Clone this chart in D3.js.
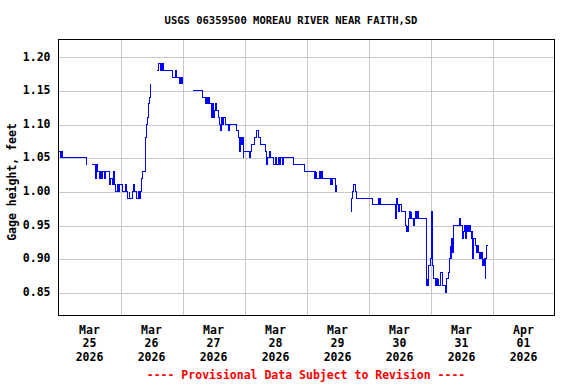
<!DOCTYPE html>
<html>
<head>
<meta charset="utf-8">
<script src="https://cdn.jsdelivr.net/npm/d3@7"></script>
<style>
  body { margin: 0; background: #fff; }
  text { font-family: "DejaVu Sans Mono", monospace; font-weight: bold; }
</style>
</head>
<body>
<div id="chart"></div>
<script>
const title = 'USGS 06359500 MOREAU RIVER NEAR FAITH,SD';
const yLabel = 'Gage height, feet';
const footer = '---- Provisional Data Subject to Revision ----';

// hours since Mar 25 2026 00:00, value where the reading changes (null = gap)
const hours = [
  0, 0.6, 1.2, 1.6, 10.8, 11.9,
  12.9, 14.3, 14.6, 15.2, 16.0, 16.3, 16.8, 17.2, 17.8, 18.1, 19.8, 20.1, 21.0, 21.4,
  21.7, 22.2, 22.7, 23.2, 23.5, 24.8, 26.1, 26.5, 26.8, 27.3, 27.6, 28.7, 29.0, 29.3,
  30.3, 31.0, 31.3, 31.7, 32.0, 32.3, 32.7, 33.7, 34.0, 34.4, 34.8, 35.1, 35.5, 36.4,
  37.9, 38.9, 39.3, 39.6, 40.0, 40.3, 40.8, 44.1, 45.4, 45.6, 46.7, 47.0, 47.3, 47.6,
  47.9, 48.2,
  52.0, 55.7, 57.0, 57.3, 57.6, 58.0, 58.6, 59.2, 59.6, 59.8, 60.1, 60.4, 60.9, 61.3,
  61.9, 62.5, 62.9, 63.1, 63.5, 63.9, 64.6, 65.7, 66.3, 69.0, 69.5, 70.2, 70.5, 70.8,
  71.1, 71.5, 71.7, 73.8, 74.4, 74.9, 76.0, 76.6, 77.5, 78.2, 80.0, 80.7, 81.0, 81.5,
  82.1, 83.3, 84.1, 84.5, 85.0, 85.5, 85.9, 86.8, 87.0, 90.9, 95.4, 99.0, 99.2, 99.5,
  99.7, 100.0, 101.1, 101.4, 101.7, 102.0, 105.3, 105.7, 105.9, 106.2, 107.1, 107.5, 110.4,
  113.4, 113.5, 113.8, 114.3, 114.8, 115.2, 121.5, 123.7, 124.1, 124.3, 124.6, 130.5,
  130.7, 131.0, 131.4, 131.8, 132.1, 132.9, 134.5, 134.7, 135.0, 135.2, 135.5, 136.0,
  136.3, 136.5, 136.8, 137.3, 137.9, 138.3, 138.7, 139.0, 139.5, 142.3, 142.5, 142.7,
  142.8, 143.1, 143.2, 144.0, 144.3, 144.4, 144.6, 144.8, 145.0, 145.8, 146.3, 146.6,
  147.0, 147.2, 147.9, 148.8, 149.9, 150.2, 151.1, 151.4, 151.6, 151.9, 152.1, 152.5,
  152.8, 153.0, 155.1, 155.7, 156.4, 156.6, 157.3, 157.5, 157.8, 158.2, 158.6, 159.0,
  159.2, 159.5, 159.7, 160.0, 160.3, 160.5, 160.8, 161.4, 161.8, 162.2, 162.5, 162.8,
  163.1, 163.4, 163.7, 164.0, 164.4, 164.6, 164.9, 165.2, 165.4, 165.7, 165.8, 165.9
];
const gage = [
  1.06, 1.05, 1.06, 1.05, 1.04, null,
  1.04, 1.02, 1.04, 1.03, 1.02, 1.03, 1.02, 1.03, 1.02, 1.03, 1.01, 1.02, 1.01, 1.03,
  1.01, 1.00, 1.01, 1.00, 1.01, 1.00, 1.01, 1.00, 0.99, 1.00, 0.99, 1.00, 1.01, 1.00,
  0.99, 1.00, 0.99, 1.00, 1.01, 1.02, 1.03, 1.08, 1.10, 1.11, 1.13, 1.14, 1.16, null,
  1.18, 1.19, 1.18, 1.19, 1.18, 1.19, 1.18, 1.17, 1.18, 1.17, 1.16, 1.17, 1.16, 1.17,
  1.16, null,
  1.15, 1.14, 1.13, 1.14, 1.13, 1.14, 1.13, 1.11, 1.12, 1.13, 1.11, 1.12, 1.13, 1.12,
  1.11, 1.10, 1.09, 1.11, 1.10, 1.11, 1.10, 1.09, 1.10, 1.09, 1.08, 1.06, 1.08, 1.07,
  1.08, 1.05, 1.06, 1.05, 1.06, 1.07, 1.08, 1.09, 1.08, 1.07, 1.06, 1.04, 1.05, 1.06,
  1.05, 1.04, 1.05, 1.04, 1.05, 1.04, 1.05, 1.04, 1.05, 1.04, 1.03, 1.02, 1.03, 1.02,
  1.03, 1.02, 1.03, 1.02, 1.03, 1.02, 1.01, 1.02, 1.01, 1.02, 1.00, 1.01, null,
  0.97, 0.99, 1.00, 1.01, 1.00, 0.99, 0.98, 0.99, 0.98, 0.99, 0.98, 0.96,
  0.98, 0.99, 0.98, 0.97, 0.98, 0.97, 0.95, 0.94, 0.95, 0.94, 0.96, 0.97,
  0.96, 0.97, 0.96, 0.95, 0.96, 0.97, 0.96, 0.97, 0.96, 0.87, 0.86, 0.87,
  0.86, 0.87, 0.89, 0.90, 0.92, 0.97, 0.93, 0.89, 0.87, 0.86, 0.87, 0.86,
  0.87, 0.86, 0.88, 0.86, 0.85, 0.87, 0.88, 0.90, 0.92, 0.90, 0.93, 0.91,
  0.94, 0.95, 0.96, 0.95, 0.93, 0.94, 0.95, 0.93, 0.95, 0.94, 0.95, 0.94,
  0.95, 0.94, 0.93, 0.94, 0.90, 0.92, 0.93, 0.92, 0.91, 0.92, 0.91, 0.90,
  0.91, 0.90, 0.91, 0.89, 0.90, 0.89, 0.90, 0.87, 0.90, 0.91, 0.92, 0.92
];

const yTicks = [0.85, 0.90, 0.95, 1.00, 1.05, 1.10, 1.15, 1.20];
const dayLabels = ['Mar 25 2026', 'Mar 26 2026', 'Mar 27 2026', 'Mar 28 2026',
  'Mar 29 2026', 'Mar 30 2026', 'Mar 31 2026', 'Apr 01 2026'];

const W = 576, H = 384;
const margin = {top: 39.5, right: 21.5, bottom: 68.5, left: 58.5};

const start = new Date(2026, 2, 25);
const end = new Date(2026, 3, 2);
const toDate = h => new Date(start.getTime() + h * 3600e3);

const svg = d3.select('#chart').append('svg')
  .attr('width', W)
  .attr('height', H);

const x = d3.scaleTime()
  .domain([start, end])
  .range([margin.left, W - margin.right]);

const y = d3.scaleLinear()
  .domain([0.815, 1.225])
  .range([H - margin.bottom, margin.top]);

const plotW = W - margin.left - margin.right;
const plotH = H - margin.top - margin.bottom;

// grid from the axes
svg.append('g')
  .attr('class', 'ygrid')
  .attr('transform', `translate(${margin.left},0)`)
  .call(d3.axisLeft(y).tickValues(yTicks).tickSize(-plotW).tickPadding(8).tickFormat(d3.format('.2f')))
  .call(g => g.select('.domain').remove())
  .call(g => g.selectAll('line').attr('stroke', '#c8c8c8').attr('shape-rendering', 'crispEdges')
    .attr('transform', d => `translate(0,${Math.round(y(d)) - y(d) + 0.5})`))
  .call(g => g.selectAll('text').attr('fill', '#000').style('font-size', '11.5px')
    .style('font-family', '"DejaVu Sans Mono", monospace').style('font-weight', 'bold'));

svg.append('g')
  .attr('class', 'xgrid')
  .attr('transform', `translate(0,${H - margin.bottom})`)
  .call(d3.axisBottom(x).tickValues(d3.timeDay.range(d3.timeDay.offset(start, 1), end)).tickSize(-plotH).tickFormat(''))
  .call(g => g.select('.domain').remove())
  .call(g => g.selectAll('line').attr('stroke', '#c8c8c8').attr('shape-rendering', 'crispEdges'));

// day labels centred on each day
const labels = svg.append('g')
  .selectAll('text')
  .data(dayLabels)
  .join('text')
    .attr('x', (d, i) => x(d3.timeHour.offset(start, i * 24 + 12)))
    .attr('y', 333.5)
    .attr('text-anchor', 'middle')
    .style('font-size', '11.5px');

labels.selectAll('tspan')
  .data(d => d.split(' '))
  .join('tspan')
    .attr('x', function() { return this.parentNode.getAttribute('x'); })
    .attr('dy', (d, i) => i ? 13.5 : 0)
    .text(d => d);

const pts = hours.map((h, i) => ({t: toDate(h), v: gage[i]}));

// snap to pixel centres so the trace stays 1px like the original
const line = d3.line()
  .defined(d => d.v !== null)
  .x(d => Math.floor(x(d.t)) + 0.5)
  .y(d => Math.round(y(d.v)) + 0.5)
  .curve(d3.curveStepAfter);

svg.append('path')
  .datum(pts)
  .attr('fill', 'none')
  .attr('stroke', '#0000ff')
  .attr('stroke-width', 1)
  .attr('shape-rendering', 'crispEdges')
  .attr('d', line);

// frame
svg.append('rect')
  .attr('x', margin.left)
  .attr('y', margin.top)
  .attr('width', plotW)
  .attr('height', plotH)
  .attr('fill', 'none')
  .attr('stroke', '#000')
  .attr('shape-rendering', 'crispEdges');

svg.append('text')
  .attr('x', 291)
  .attr('y', 24)
  .attr('text-anchor', 'middle')
  .style('font-size', '10.5px')
  .text(title);

svg.append('text')
  .attr('transform', 'translate(16,182) rotate(-90)')
  .attr('text-anchor', 'middle')
  .style('font-size', '11.5px')
  .text(yLabel);

svg.append('text')
  .attr('x', 306)
  .attr('y', 379)
  .attr('text-anchor', 'middle')
  .attr('fill', '#ff0000')
  .style('font-size', '11.5px')
  .text(footer);
</script>
</body>
</html>
